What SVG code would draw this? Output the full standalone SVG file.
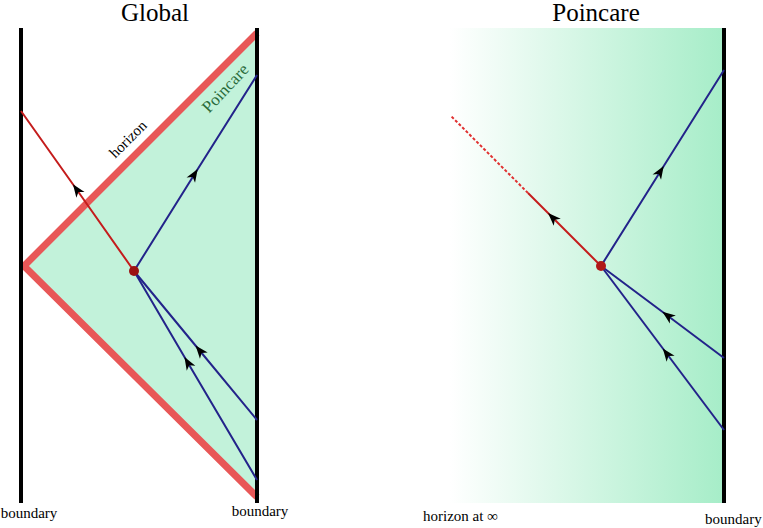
<svg xmlns="http://www.w3.org/2000/svg" width="763" height="528" viewBox="0 0 763 528">
<defs>
<linearGradient id="grad" x1="0" y1="0" x2="1" y2="0">
<stop offset="0" stop-color="#ffffff"/>
<stop offset="1" stop-color="#a6edc8"/>
</linearGradient>
<marker id="arr" viewBox="-8 -6 16 12" markerWidth="16" markerHeight="12" refX="0" refY="0" orient="auto" markerUnits="userSpaceOnUse">
<path d="M7,0 L-6,-5 L-2.5,0 L-6,5 z" fill="#000"/>
</marker>
<style>
.bnd{stroke:#000;stroke-width:4;fill:none}
.blue{stroke:#23238a;stroke-width:2;fill:none;marker-mid:url(#arr)}
.red{stroke:#c41c1c;stroke-width:2;fill:none}
.title{font-family:'Liberation Serif','Times New Roman','DejaVu Serif',serif;font-size:25px;fill:#000;text-anchor:middle}
.lbl{font-family:'Liberation Serif','Times New Roman','DejaVu Serif',serif;font-size:15px;fill:#000}
.dot{fill:#9c1212}
</style>
</defs>
<rect width="763" height="528" fill="#fff"/>

<g id="global">
<text class="title" x="155" y="21">Global</text>
<polygon points="257,33 23,266 257,494" fill="#c2f2da"/>
<polyline points="257,33 24,266 257,497" fill="none" stroke="#e85757" stroke-width="7"/>
<line class="bnd" x1="21" y1="28" x2="21" y2="503"/>
<line class="bnd" x1="257" y1="28" x2="257" y2="503"/>
<text class="lbl" x="128" y="144" text-anchor="middle" transform="rotate(-45 128 139)">horizon</text>
<text class="lbl" x="225" y="94" text-anchor="middle" style="fill:#2a6b3a;font-size:17px" transform="rotate(-47 225 88)">Poincare</text>
<text class="lbl" x="29" y="518" text-anchor="middle">boundary</text>
<text class="lbl" x="260" y="516" text-anchor="middle">boundary</text>
</g>

<g id="connectors-global">
<path class="red" d="M134,271 L77,190 L21,111" style="marker-mid:url(#arr)"/>
<path class="blue" d="M134,271 L194,175 L257,75"/>
<path class="blue" d="M257,420 L200,351 L134,271"/>
<path class="blue" d="M257,480 L188,363 L134,271"/>
<circle class="dot" cx="134" cy="271" r="5"/>
</g>

<g id="poincare">
<text class="title" x="596" y="21">Poincare</text>
<rect x="450" y="28" width="274" height="475" fill="url(#grad)"/>
<line class="bnd" x1="724" y1="28" x2="724" y2="503"/>
<text class="lbl" x="423" y="521">horizon at ∞</text>
<text class="lbl" x="705" y="524">boundary</text>
</g>

<g id="connectors-poincare">
<path class="red" d="M601,266 L553,218 L528,193" style="marker-mid:url(#arr)"/>
<line x1="528" y1="193" x2="451" y2="116" stroke="#e03030" stroke-width="2" stroke-dasharray="3,2"/>
<path class="blue" d="M601,266 L660,172 L724,70"/>
<path class="blue" d="M724,358 L668,316 L601,266"/>
<path class="blue" d="M724,430 L667,354 L601,266"/>
<circle cx="601" cy="266" r="5" fill="#b01818"/>
</g>
</svg>
